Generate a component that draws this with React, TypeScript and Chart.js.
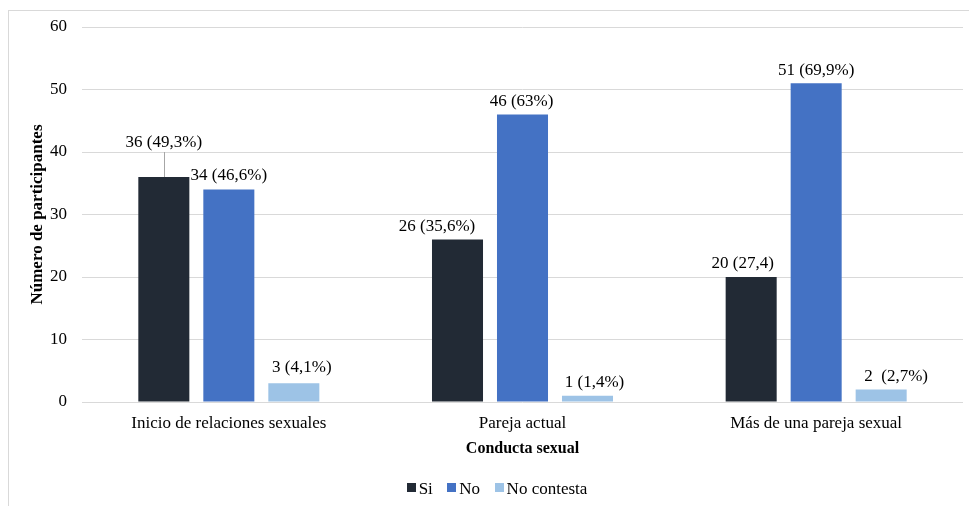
import React, { useEffect, useRef } from "react";
import { Chart, registerables } from "chart.js";

Chart.register(...registerables);

const categories = ["Inicio de relaciones sexuales", "Pareja actual", "Más de una pareja sexual"];
const seriesNames = ["Si", "No", "No contesta"];
const siValues = [36, 26, 20];
const noValues = [34, 46, 51];
const ncValues = [3, 1, 2];
const siLabels = ["36 (49,3%)", "26 (35,6%)", "20 (27,4)"];
const noLabels = ["34 (46,6%)", "46 (63%)", "51 (69,9%)"];
const ncLabels = ["3 (4,1%)", "1 (1,4%)", "2  (2,7%)"];
const yTicks = [0, 10, 20, 30, 40, 50, 60];

const colors = ["#222a35", "#4472c4", "#9dc3e6"];
const FONT = "'Liberation Serif', 'Times New Roman', serif";

// label placement offsets relative to bar top (dx, dy) in px
const labelOffsets = [
  [[0, -34], [-20.5, -12.5], [-8.5, -13.5]],
  [[0, -13.5], [-1, -13], [0, -13]],
  [[8, -16], [7, -13.5], [15, -12.5]],
];
const leaderLines = [[true, false, false], [false, false, false], [false, false, false]];

const labelPlugin = {
  id: "barLabels",
  afterDatasetsDraw(chart: any) {
    const ctx = chart.ctx;
    const allLabels = [siLabels, noLabels, ncLabels];
    ctx.save();
    ctx.font = `17px ${FONT}`;
    ctx.fillStyle = "#000";
    ctx.textAlign = "center";
    ctx.textBaseline = "middle";
    chart.data.datasets.forEach((_ds: any, di: number) => {
      const meta = chart.getDatasetMeta(di);
      meta.data.forEach((el: any, i: number) => {
        const [dx, dy] = labelOffsets[di][i];
        const x = el.x + dx;
        const y = el.y + dy;
        if (leaderLines[di][i]) {
          ctx.strokeStyle = "#a6a6a6";
          ctx.lineWidth = 1;
          ctx.beginPath();
          ctx.moveTo(Math.round(el.x) + 0.5, el.y);
          ctx.lineTo(Math.round(el.x) + 0.5, y + 9);
          ctx.stroke();
        }
        ctx.fillText(allLabels[di][i], x, y);
      });
    });
    ctx.restore();
  },
};

// custom legend: small square, short gap, text
const legendPlugin = {
  id: "customLegend",
  afterDraw(chart: any) {
    const ctx = chart.ctx;
    ctx.save();
    ctx.font = `17px ${FONT}`;
    ctx.textBaseline = "middle";
    ctx.textAlign = "left";
    const box = 9;
    const gapText = 3;
    const gapItem = 14.5;
    const widths = seriesNames.map((n) => box + gapText + ctx.measureText(n).width);
    const total = widths.reduce((a, b) => a + b, 0) + gapItem * (widths.length - 1);
    const cx = 497;
    const cy = 488;
    let x = cx - total / 2;
    seriesNames.forEach((n, i) => {
      ctx.fillStyle = colors[i];
      ctx.fillRect(Math.round(x), 483, box, box);
      ctx.fillStyle = "#000";
      ctx.fillText(n, x + box + gapText, cy + 1.5);
      x += widths[i] + gapItem;
    });
    ctx.restore();
  },
};

export default function App() {
  const ref = useRef<HTMLCanvasElement>(null);
  useEffect(() => {
    document.body.style.overflow = "hidden";
    const chart = new Chart(ref.current as HTMLCanvasElement, {
      type: "bar",
      data: {
        labels: categories,
        datasets: [siValues, noValues, ncValues].map((vals, i) => ({
          label: seriesNames[i],
          data: vals,
          backgroundColor: colors[i],
          borderWidth: 0,
          barPercentage: 0.785,
          categoryPercentage: 0.664,
        })),
      },
      options: {
        responsive: false,
        animation: false,
        devicePixelRatio: 1,
        layout: { padding: { top: 27, right: 6, left: 0, bottom: 36 } },
        plugins: {
          tooltip: { enabled: false },
          legend: { display: false },
        },
        scales: {
          x: {
            grid: { display: false, drawTicks: false },
            border: { display: false },
            ticks: { color: "#000", font: { family: FONT, size: 17 }, padding: 11, maxRotation: 0 },
            title: {
              display: true,
              text: "Conducta sexual",
              color: "#000",
              font: { family: FONT, size: 16, weight: "bold" },
              padding: { top: 0, bottom: 12 },
            },
            afterFit: (s: any) => {
              s.height = 68;
            },
          },
          y: {
            min: 0,
            max: 60,
            afterBuildTicks: (s: any) => {
              s.ticks = yTicks.map((v) => ({ value: v }));
            },
            grid: { color: "#d9d9d9", drawTicks: false, lineWidth: 1 },
            border: { display: false },
            ticks: { color: "#000", font: { family: FONT, size: 17 }, padding: 15 },
            title: {
              display: true,
              text: "Número de participantes",
              color: "#000",
              font: { family: FONT, size: 17, weight: "bold" },
              padding: { top: 27, bottom: 0 },
            },
            afterFit: (s: any) => {
              s.width = 82;
            },
          },
        },
      },
      plugins: [labelPlugin, legendPlugin],
    });
    return () => chart.destroy();
  }, []);
  return (
    <div style={{ position: "fixed", left: 0, top: 0, width: 969, height: 506, overflow: "hidden", background: "#fff" }}>
      <div
        style={{
          position: "absolute",
          left: 8,
          top: 10,
          width: 980,
          height: 520,
          border: "1px solid #d9d9d9",
        }}
      />
      <canvas
        ref={ref}
        width={969}
        height={506}
        style={{ position: "absolute", left: 0, top: 0, width: 969, height: 506 }}
      />
    </div>
  );
}
